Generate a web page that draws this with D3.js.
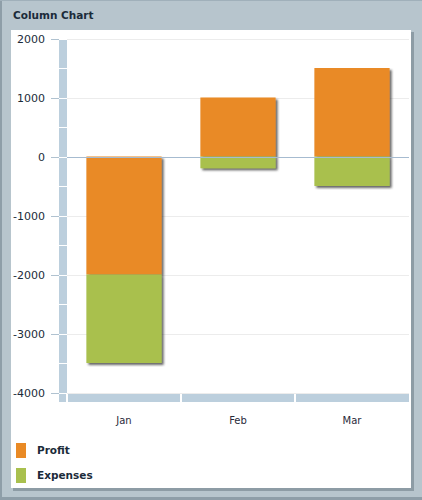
<!DOCTYPE html>
<html><head><meta charset="utf-8">
<script src="https://cdn.jsdelivr.net/npm/d3@7"></script>
<style>
html,body{margin:0;padding:0;background:#b7c5cd;}
svg{display:block;font-family:"DejaVu Sans",Verdana,sans-serif;}
</style></head>
<body>
<svg id="c" width="422" height="500"></svg>
<script>
const categories = ["Jan","Feb","Mar"];
const seriesNames = ["Profit","Expenses"];
const profit = [-2000, 1000, 1500];
const expenses = [-1500, -200, -500];
const colors = ["#e98a25","#a9c04e"];
const yTicks = [2000,1000,0,-1000,-2000,-3000,-4000];
const yMinor = [1500,500,-500,-1500,-2500,-3500];

(function(){
const svg = d3.select("#c");
const defs = svg.append("defs");
const f = defs.append("filter").attr("id","sh").attr("x","-10%").attr("y","-10%").attr("width","130%").attr("height","130%");
f.append("feDropShadow").attr("dx",2).attr("dy",2).attr("stdDeviation",1).attr("flood-color","#333").attr("flood-opacity",0.75);

// frame
svg.append("rect").attr("x",0).attr("y",0).attr("width",422).attr("height",500).attr("fill","#b7c5cd");
svg.append("rect").attr("x",0).attr("y",0).attr("width",2).attr("height",500).attr("fill","#8e9ea8");
svg.append("rect").attr("x",0).attr("y",0).attr("width",422).attr("height",1).attr("fill","#a0b0ba");
svg.append("rect").attr("x",0).attr("y",497).attr("width",422).attr("height",3).attr("fill","#8e9ea8");
svg.append("text").attr("x",13).attr("y",19).attr("font-size",10.5).attr("font-weight","bold").attr("fill","#1b2b3a").text("Column Chart");
// panel shadow + panel
svg.append("rect").attr("x",13).attr("y",32).attr("width",401).attr("height",459).attr("fill","#8d9ca5");
svg.append("rect").attr("x",11).attr("y",30).attr("width",400).attr("height",458).attr("fill","#ffffff");

const pLeft = 67, pRight = 409, pTop = 38.5, pBottom = 392.5;
const y = d3.scaleLinear().domain([-4000,2000]).range([pBottom, pTop]);
const x = d3.scaleBand().domain(categories).range([pLeft, pRight]).paddingInner(0.34).paddingOuter(0.17);
const xb = d3.scaleBand().domain(categories).range([pLeft, pRight]);

// gridlines
svg.append("g").selectAll("line").data(yTicks.filter(d=>d!==0)).join("line")
  .attr("x1",pLeft).attr("x2",pRight).attr("y1",d=>Math.round(y(d))+0.5).attr("y2",d=>Math.round(y(d))+0.5)
  .attr("stroke","#ececec").attr("stroke-width",1);

// vertical axis band with gaps
const vb = yTicks.concat(yMinor).sort((a,b)=>b-a);
const vg = svg.append("g");
for (let i=0;i<vb.length-1;i++){
  const y0 = Math.round(y(vb[i]))+1, y1 = Math.round(y(vb[i+1]));
  vg.append("rect").attr("x",59).attr("width",8).attr("y",y0).attr("height",y1-y0).attr("fill","#bccfdd");
}
// corner block + bottom band
vg.append("rect").attr("x",59).attr("width",7).attr("y",Math.round(pBottom)+1).attr("height",8).attr("fill","#bccfdd");
categories.forEach((c,i)=>{
  const x0 = xb(c) + 1, x1 = xb(c)+xb.bandwidth() - (i<categories.length-1?1:0);
  vg.append("rect").attr("x",x0).attr("width",x1-x0).attr("y",Math.round(pBottom)+1).attr("height",8).attr("fill","#bccfdd");
});

// y axis ticks & labels
const yAxis = d3.axisLeft(y).tickValues(yTicks).tickSize(8).tickPadding(6).tickFormat(d=>String(d));
const ga = svg.append("g").attr("transform","translate(59,0.5)").call(yAxis);
ga.select(".domain").remove();
ga.selectAll(".tick line").attr("stroke","#b0c2d0");
ga.selectAll(".tick text").attr("font-size",11).attr("fill","#1b2b3a").attr("font-family","DejaVu Sans, Verdana, sans-serif");

// x labels
const xAxis = d3.axisBottom(xb).tickSize(0).tickPadding(0);
const gx = svg.append("g").attr("transform","translate(0,417)").call(xAxis);
gx.select(".domain").remove();
gx.selectAll(".tick text").attr("font-size",10).attr("fill","#2a2a3a").attr("font-family","DejaVu Sans, Verdana, sans-serif");

// stacked bars
const data = categories.map((c,i)=>({cat:c, vals:[profit[i], expenses[i]]}));
const bars = svg.append("g");
data.forEach(d=>{
  let posBase = 0, negBase = 0;
  const segs = d.vals.map((v,k)=>{
    let y0,y1;
    if (v>=0){ y0 = posBase; y1 = posBase+v; posBase = y1; }
    else { y0 = negBase; y1 = negBase+v; negBase = y1; }
    return {k, lo:Math.min(y0,y1), hi:Math.max(y0,y1)};
  });
  const g = bars.append("g").attr("filter","url(#sh)");
  g.selectAll("rect").data(segs).join("rect")
    .attr("x",x(d.cat)).attr("width",x.bandwidth())
    .attr("y",s=>y(s.hi)).attr("height",s=>y(s.lo)-y(s.hi))
    .attr("fill",s=>colors[s.k]);
});

// zero line
svg.append("line").attr("x1",pLeft).attr("x2",pRight).attr("y1",Math.round(y(0))+0.5).attr("y2",Math.round(y(0))+0.5)
  .attr("stroke","#a6bbd0").attr("stroke-width",1);

// legend
const lg = svg.append("g");
seriesNames.forEach((n,i)=>{
  const yy = 443 + i*25;
  lg.append("rect").attr("x",16).attr("y",yy).attr("width",10).attr("height",15).attr("fill",colors[i]);
  lg.append("text").attr("x",37).attr("y",yy+11).attr("font-size",10.5).attr("font-weight","bold").attr("fill","#1b2b3a").text(n);
});
})();
</script>
</body></html>
